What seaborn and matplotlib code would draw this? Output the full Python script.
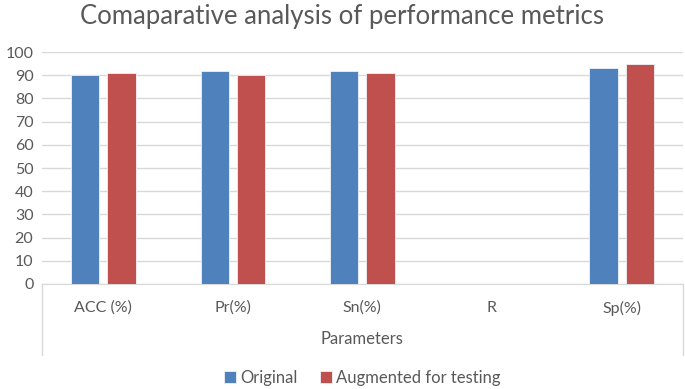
import numpy as np
import pandas as pd
import matplotlib
matplotlib.use("Agg")
import matplotlib.pyplot as plt
import seaborn as sns

categories = ["ACC (%)", "Pr(%)", "Sn(%)", "R", "Sp(%)"]
original = [90, 91.8, 91.8, np.nan, 93]
augmented = [90.9, 90, 91, np.nan, 95]
series = ["Original", "Augmented for testing"]

df = pd.DataFrame({
    "Parameters": categories * 2,
    "value": original + augmented,
    "series": [series[0]] * len(categories) + [series[1]] * len(categories),
})

sns.set_style("white")
plt.rcParams["font.family"] = ["Lato", "DejaVu Sans"]
grey = "#595959"

fig = plt.figure(figsize=(6.85, 3.89), dpi=100)
ax = fig.add_axes([0.061, 0.27, 0.936, 0.596])

sns.barplot(data=df, x="Parameters", y="value", hue="series",
            palette=["#4F81BD", "#C0504D"], saturation=1, width=0.56, gap=0.22,
            edgecolor="#eef2f8", linewidth=0.6, ax=ax, zorder=3)

ax.set_ylim(0, 100)
ax.set_yticks(range(0, 101, 10))
ax.yaxis.grid(True, color="#d9d9d9", linewidth=1, zorder=0)
ax.set_axisbelow(True)
for s in ["top", "right", "left"]:
    ax.spines[s].set_visible(False)
ax.spines["bottom"].set_color("#d9d9d9")
ax.tick_params(axis="both", length=0, labelsize=11.5, colors=grey, pad=6)
ax.tick_params(axis="x", pad=12)
ax.set_ylabel("")
ax.set_xlabel("Parameters", fontsize=12, color=grey, labelpad=11)

# category box side lines, as in the original
for xa in (0, 1):
    ax.plot([xa, xa], [0, -0.305], transform=ax.transAxes, color="#d9d9d9",
            linewidth=1, clip_on=False)

fig.suptitle("Comaparative analysis of performance metrics", fontsize=18.5,
             color=grey, y=0.99)

handles, labels = ax.get_legend_handles_labels()
ax.legend(handles, labels, loc="center", bbox_to_anchor=(0.5, -0.405),
          ncol=2, frameon=False, fontsize=12, labelcolor=grey,
          handlelength=0.7, handleheight=0.7, handletextpad=0.25,
          columnspacing=1.4)

fig.savefig("out.png", dpi=100)
